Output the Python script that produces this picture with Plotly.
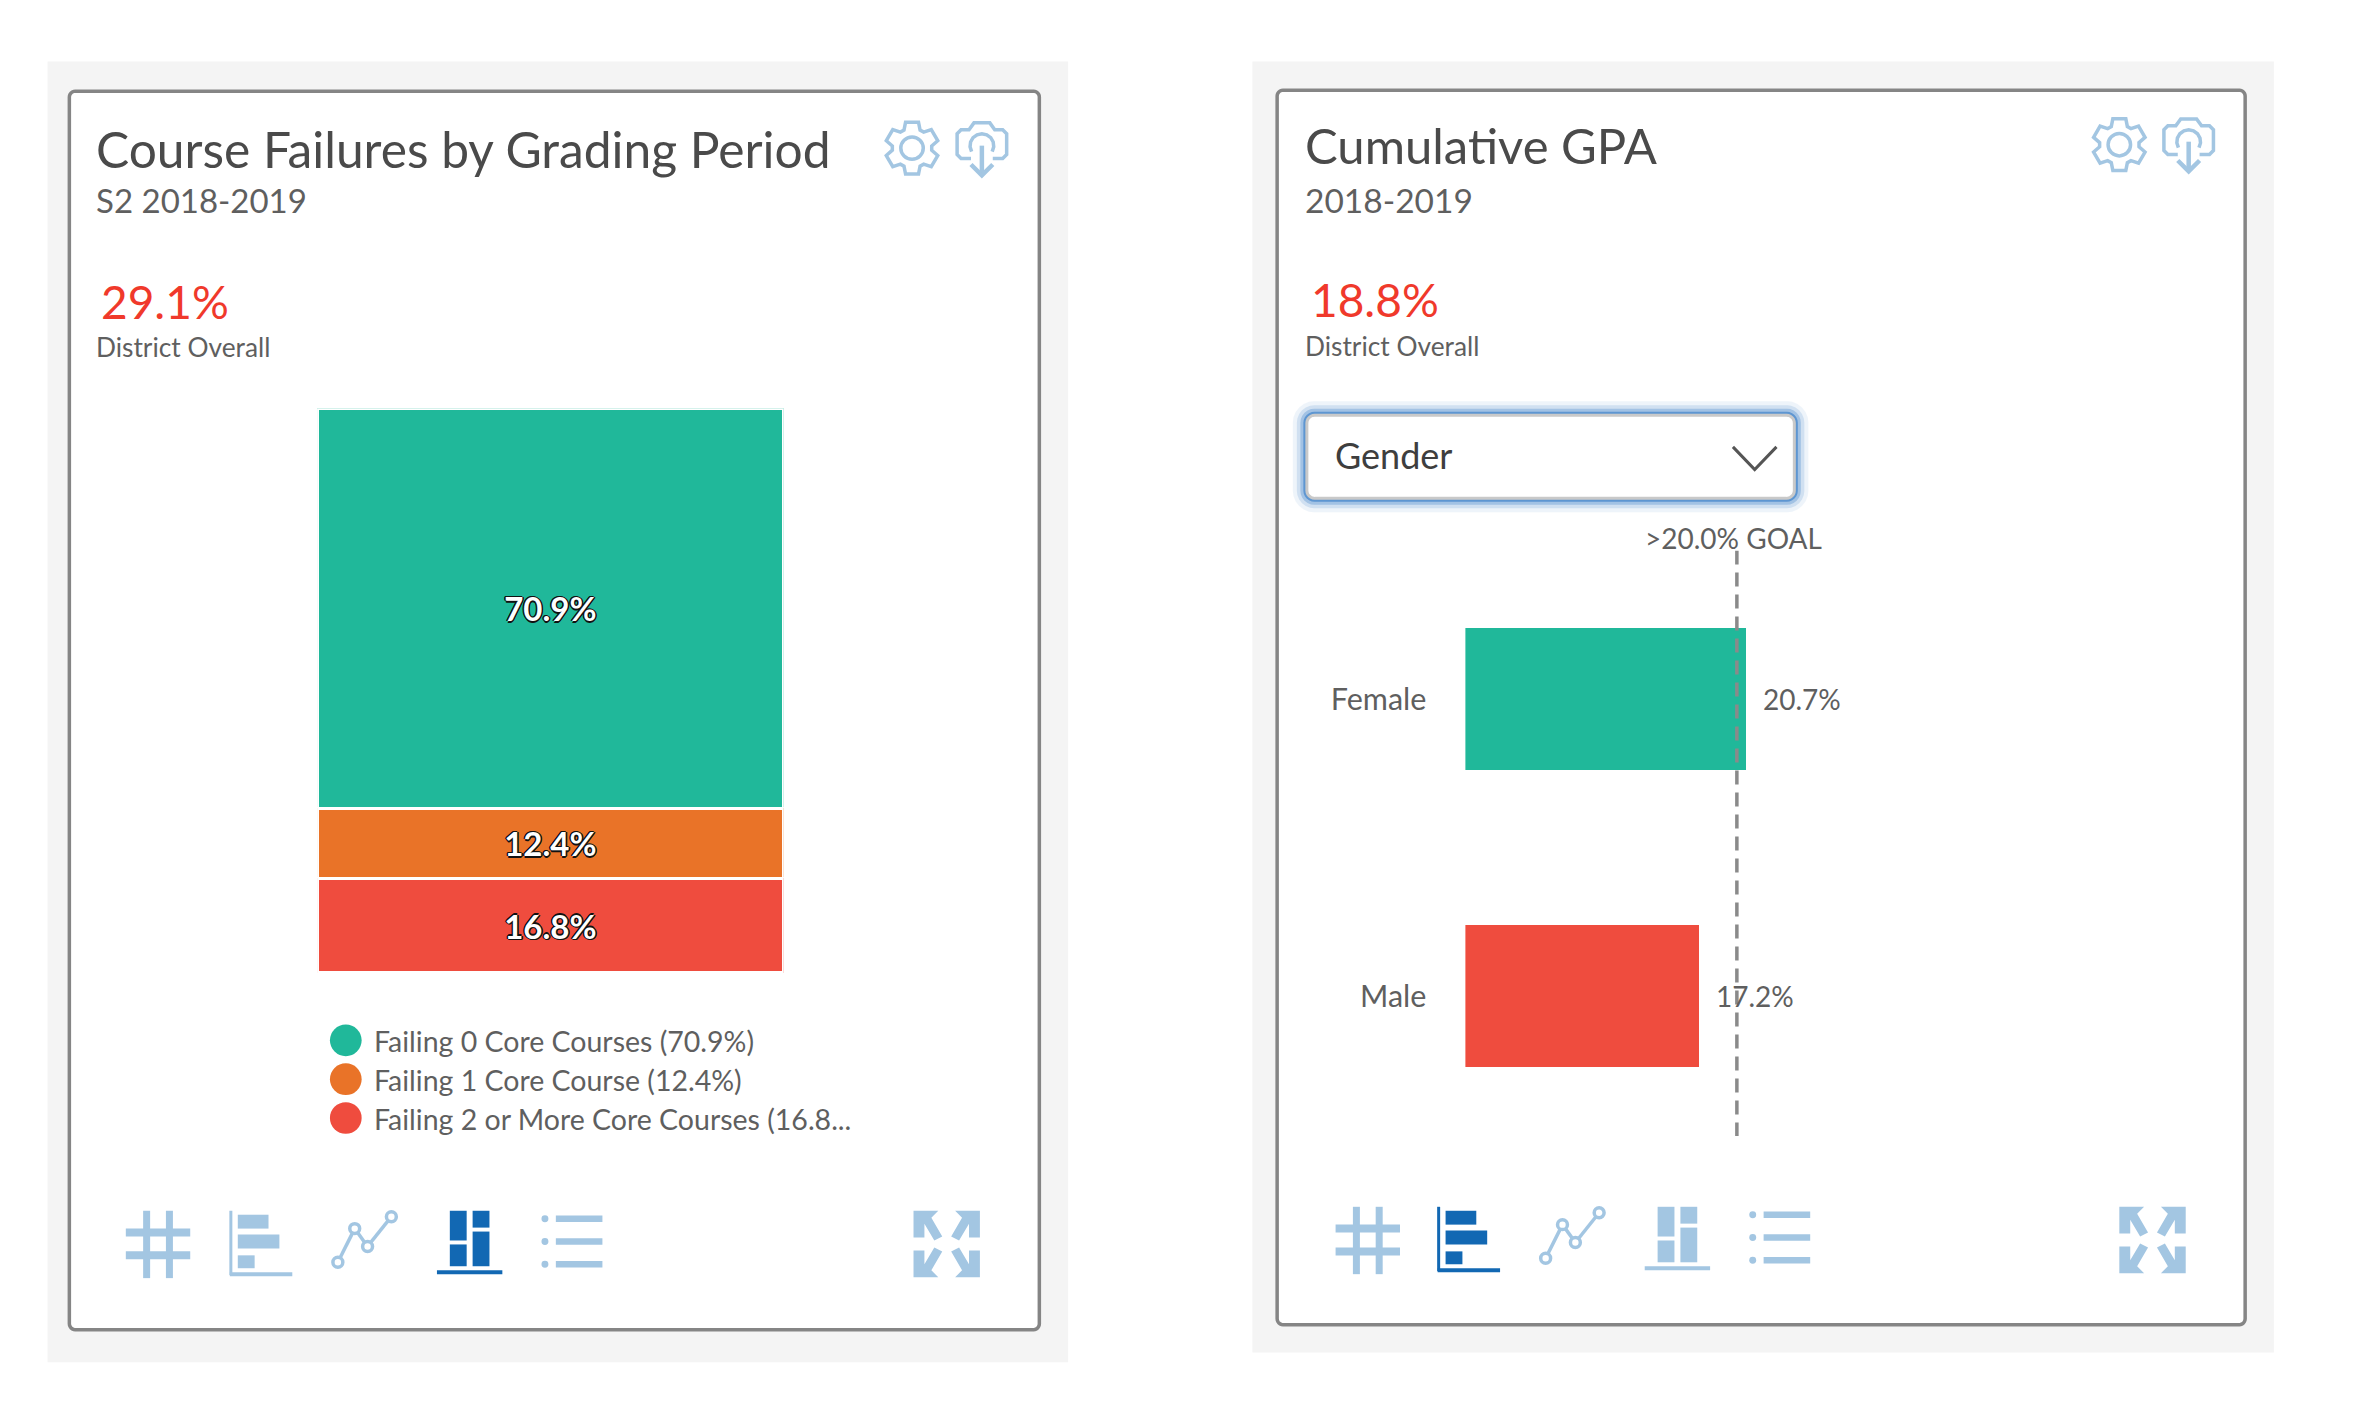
import math
import plotly.graph_objects as go

W, H = 2354, 1424
S = 0.9908

# ---- data ----
stack_labels = ["Failing 0 Core Courses", "Failing 1 Core Course", "Failing 2 or More Core Courses"]
stack_values = [70.9, 12.4, 16.8]
stack_text = ["70.9%", "12.4%", "16.8%"]
legend_text = ["Failing 0 Core Courses (70.9%)", "Failing 1 Core Course (12.4%)", "Failing 2 or More Core Courses (16.8..."]
gender_labels = ["Female", "Male"]
gender_values = [20.7, 17.2]
gender_text = ["20.7%", "17.2%"]
goal_value = 20.0

GREEN, ORANGE, RED = "#20B89A", "#E97328", "#EF4C3E"
LIGHT, DARK = "#A3C6E2", "#1268B3"
TXT, TXT2, BORDER, BG = "#4A4A4A", "#5F5F5F", "#858585", "#F4F4F4"
FONT = "Lato"
stack_colors = [GREEN, ORANGE, RED]
gender_colors = [GREEN, RED]


def px(x):
    return x * S / W


def py(y):
    return 1 - y * S / H


shapes, annotations = [], []


def path(points, close=False):
    s = "M " + " L ".join(f"{px(x):.5f},{py(y):.5f}" for x, y in points)
    return s + (" Z" if close else "")


def add_path(points, close=False, line=None, fill=None, width=3, layer="below", opacity=1):
    shapes.append(dict(type="path", xref="paper", yref="paper", path=path(points, close),
                       line=dict(color=line or "rgba(0,0,0,0)", width=width if line else 0),
                       fillcolor=fill or "rgba(0,0,0,0)", layer=layer, opacity=opacity))


def rect(x0, y0, x1, y1, fill=None, line=None, width=0, layer="below"):
    shapes.append(dict(type="rect", xref="paper", yref="paper", x0=px(x0), x1=px(x1), y0=py(y0), y1=py(y1),
                       fillcolor=fill or "rgba(0,0,0,0)",
                       line=dict(color=line or "rgba(0,0,0,0)", width=width), layer=layer))


def circle(cx, cy, r, fill=None, line=None, width=0):
    shapes.append(dict(type="circle", xref="paper", yref="paper", x0=px(cx - r), x1=px(cx + r), y0=py(cy - r), y1=py(cy + r),
                       fillcolor=fill or "rgba(0,0,0,0)",
                       line=dict(color=line or "rgba(0,0,0,0)", width=width), layer="below"))


def round_rect_pts(x0, y0, x1, y1, r):
    pts = []
    for cx, cy, a0 in [(x1 - r, y0 + r, -90), (x1 - r, y1 - r, 0), (x0 + r, y1 - r, 90), (x0 + r, y0 + r, 180)]:
        for k in range(7):
            a = math.radians(a0 + 15 * k)
            pts.append((cx + r * math.cos(a), cy + r * math.sin(a)))
    return pts


def text(x, y, s, size, color=TXT, anchor="left", family=FONT):
    annotations.append(dict(xref="paper", yref="paper", x=px(x), y=py(y), text=s, showarrow=False,
                            xanchor=anchor, yanchor="middle", font=dict(family=family, size=size, color=color)))


def gear(cx, cy, r):
    pts = []
    for i in range(6):
        base = i * 60 - 90
        for da, rad in [(-24, r * 0.74), (-14, r), (14, r), (24, r * 0.74)]:
            a = math.radians(base + da)
            pts.append((cx + rad * math.cos(a), cy + rad * math.sin(a)))
    add_path(pts, close=True, line=LIGHT, width=3.5)
    circle(cx, cy, r * 0.42, line=LIGHT, width=3.5)


def cloud(cx, cy):
    w = 25
    add_path([(cx - 11, cy + 14), (cx - 21, cy + 14), (cx - w, cy + 10), (cx - w, cy - 11), (cx - 21, cy - 15),
              (cx - 13, cy - 15), (cx - 8, cy - 22), (cx + 8, cy - 22), (cx + 13, cy - 15), (cx + 21, cy - 15),
              (cx + w, cy - 11), (cx + w, cy + 10), (cx + 21, cy + 14), (cx + 11, cy + 14)], line=LIGHT, width=3.5)
    arc = [(cx + 12 * math.cos(math.radians(a)), cy + 1 + 12 * math.sin(math.radians(a)))
           for a in range(150, 391, 24)]
    add_path(arc, line=LIGHT, width=3.5)
    add_path([(cx, cy + 1), (cx, cy + 31)], line=LIGHT, width=4.5)
    add_path([(cx - 11, cy + 20), (cx, cy + 31), (cx + 11, cy + 20)], line=LIGHT, width=4.5)


def seg(x0, y0, x1, y1, color, width):
    add_path([(x0, y0), (x1, y1)], line=color, width=width)


def icon_hash(x, y, c):
    seg(x + 21, y, x + 21, y + 68, c, 7)
    seg(x + 44, y, x + 44, y + 68, c, 7)
    seg(x, y + 22, x + 65, y + 22, c, 8)
    seg(x, y + 45, x + 65, y + 45, c, 8)


def icon_bars(x, y, c):
    seg(x + 1, y, x + 1, y + 65, c, 3)
    seg(x, y + 64, x + 63, y + 64, c, 4)
    rect(x + 8, y + 4, x + 39, y + 18, fill=c)
    rect(x + 8, y + 24, x + 50, y + 38, fill=c)
    rect(x + 8, y + 45, x + 25, y + 58, fill=c)


def icon_line(x, y, c):
    nodes = [(x + 6, y + 52), (x + 23, y + 18), (x + 36, y + 36), (x + 60, y + 6)]
    for (a, b), (d, e) in zip(nodes[:-1], nodes[1:]):
        seg(a, b, d, e, c, 3.5)
    for a, b in nodes:
        circle(a, b, 5, fill="white", line=c, width=3.5)


def icon_tree(x, y, c):
    rect(x + 13, y, x + 30, y + 30, fill=c)
    rect(x + 13, y + 34, x + 30, y + 56, fill=c)
    rect(x + 36, y, x + 53, y + 17, fill=c)
    rect(x + 36, y + 21, x + 53, y + 56, fill=c)
    seg(x, y + 62, x + 66, y + 62, c, 4)


def icon_list(x, y, c):
    for dy in (8, 31, 54):
        circle(x + 4, y + dy, 3.5, fill=c)
        seg(x + 15, y + dy, x + 62, y + dy, c, 6.5)


def icon_expand(x, y, c):
    s = 67
    for sx, sy, ox, oy in [(1, 1, x, y), (-1, 1, x + s, y), (1, -1, x, y + s), (-1, -1, x + s, y + s)]:
        add_path([(ox, oy), (ox + sx * 25, oy), (ox + sx * 18, oy + sy * 7), (ox + sx * 29, oy + sy * 26),
                  (ox + sx * 21, oy + sy * 30), (ox + sx * 11, oy + sy * 13), (ox + sx * 11, oy + sy * 27), (ox, oy + sy * 27)],
                 close=True, fill=c)


def icons(dx, y, active, hash_off=0, expand_off=0):
    icon_hash(dx + 127 + hash_off, y, LIGHT)
    icon_bars(dx + 232, y, DARK if active == "bars" else LIGHT)
    icon_line(dx + 335, y, LIGHT)
    icon_tree(dx + 441, y, DARK if active == "tree" else LIGHT)
    icon_list(dx + 546, y, LIGHT)
    icon_expand(dx + 922 + expand_off, y, LIGHT)


def panel(gx0, gy0, gx1, gy1, bx0, by0, bx1, by1):
    rect(gx0, gy0, gx1, gy1, fill=BG)
    add_path(round_rect_pts(bx0, by0, bx1, by1, 6), close=True, fill="white", line=BORDER, width=3.5)


# panels
panel(48, 62, 1078, 1375, 70, 92, 1049, 1342)
panel(1264, 62, 2295, 1365, 1289, 91, 2266, 1337)

# headers
text(95, 150.5, "Course Failures by Grading Period", 49.7)
text(95, 202, "S2 2018-2019", 33, TXT2)
text(100, 304, "29.1%", 46, "#F0392B")
text(95, 350, "District Overall", 26.3, TXT2)
text(1315, 146, "Cumulative GPA", 49)
text(1315, 202, "2018-2019", 33.5, TXT2)
text(1321, 302, "18.8%", 46, "#F0392B")
text(1315, 349, "District Overall", 26.3, TXT2)

gear(920.5, 149.5, 27)
cloud(991, 146)
gear(2139, 146, 27)
cloud(2209, 142)

# left legend
for i, (lab, col) in enumerate(zip(legend_text, stack_colors)):
    cy = 1050 + i * 39.2
    circle(349, cy, 16, fill=col)
    text(375, cy + 1, lab, 28.5, TXT2)

icons(0, 1222, "tree")
icons(1219, 1218, "bars", hash_off=2, expand_off=-2)

# dropdown
for w, op in [(28, 0.08), (20, 0.16), (13, 0.30), (7, 0.65)]:
    add_path(round_rect_pts(1319, 419, 1811, 503, 8), close=True, line="#3A7FC8", width=w, opacity=op)
add_path(round_rect_pts(1319, 419, 1811, 503, 8), close=True, fill="white", line="#C9C9C9", width=3)
text(1345, 459, "Gender", 36, "#3E3E3E")
add_path([(1749, 451), (1771, 474), (1793, 451)], line="#555555", width=3)
text(1750, 543.5, "&gt;20.0% GOAL", 28, TXT2, anchor="center")

fig = go.Figure()

# stacked bar
for name, val, lab, col in zip(stack_labels, stack_values, stack_text, stack_colors):
    fig.add_trace(go.Bar(
        x=["all"], y=[val], name=name, width=[1], text=[lab], textposition="inside", insidetextanchor="middle",
        constraintext="none", textangle=0,
        marker=dict(color=col, line=dict(color="white", width=3)),
        textfont=dict(family=FONT, size=33, color="white", weight="bold",
                      shadow="1.5px 0 0.5px #111, -1.5px 0 0.5px #111, 0 1.5px 0.5px #111, 0 -1.5px 0.5px #111, -1px -1px 0.5px #111, 1px 1px 0.5px #111"),
        xaxis="x", yaxis="y", showlegend=False))

# horizontal bars
fig.add_trace(go.Bar(
    x=gender_values, y=[0, 1], orientation="h", width=0.477,
    marker=dict(color=gender_colors, line=dict(width=0)), xaxis="x2", yaxis="y2", showlegend=False))

fig.add_trace(go.Scatter(
    x=[goal_value, goal_value], y=[-0.5, 1.47], mode="lines",
    line=dict(color="#8A8A8A", width=3.5, dash="14px,8px"), xaxis="x2", yaxis="y2", showlegend=False))

for i, (v, t) in enumerate(zip(gender_values, gender_text)):
    annotations.append(dict(xref="x2", yref="y2", x=v, y=i, text=t, showarrow=False, xanchor="left",
                            xshift=15, font=dict(family=FONT, size=28, color=TXT2)))

fig.update_layout(
    width=W, height=H, autosize=False,
    margin=dict(l=0, r=0, t=0, b=0),
    paper_bgcolor="white", plot_bgcolor="rgba(0,0,0,0)",
    barmode="stack", shapes=shapes, annotations=annotations, font=dict(family=FONT),
    xaxis=dict(domain=[px(320), px(791)], range=[-0.5, 0.5], visible=False, type="category"),
    yaxis=dict(domain=[py(982), py(412)], range=[100.1, 0], visible=False),
    xaxis2=dict(domain=[px(1479), px(2027)], range=[0, 40], visible=False),
    yaxis2=dict(domain=[py(1155.5), py(555.5)], range=[1.5, -0.5], tickvals=[0, 1], ticktext=gender_labels,
                showgrid=False, zeroline=False, showline=False, ticks="", ticklabelstandoff=38,
                tickfont=dict(family=FONT, size=30.5, color=TXT2), anchor="x2"),
)

fig.write_html("out.html", config=dict(displayModeBar=False),
               post_script="document.body.style.margin='0';document.body.style.overflow='hidden';")
